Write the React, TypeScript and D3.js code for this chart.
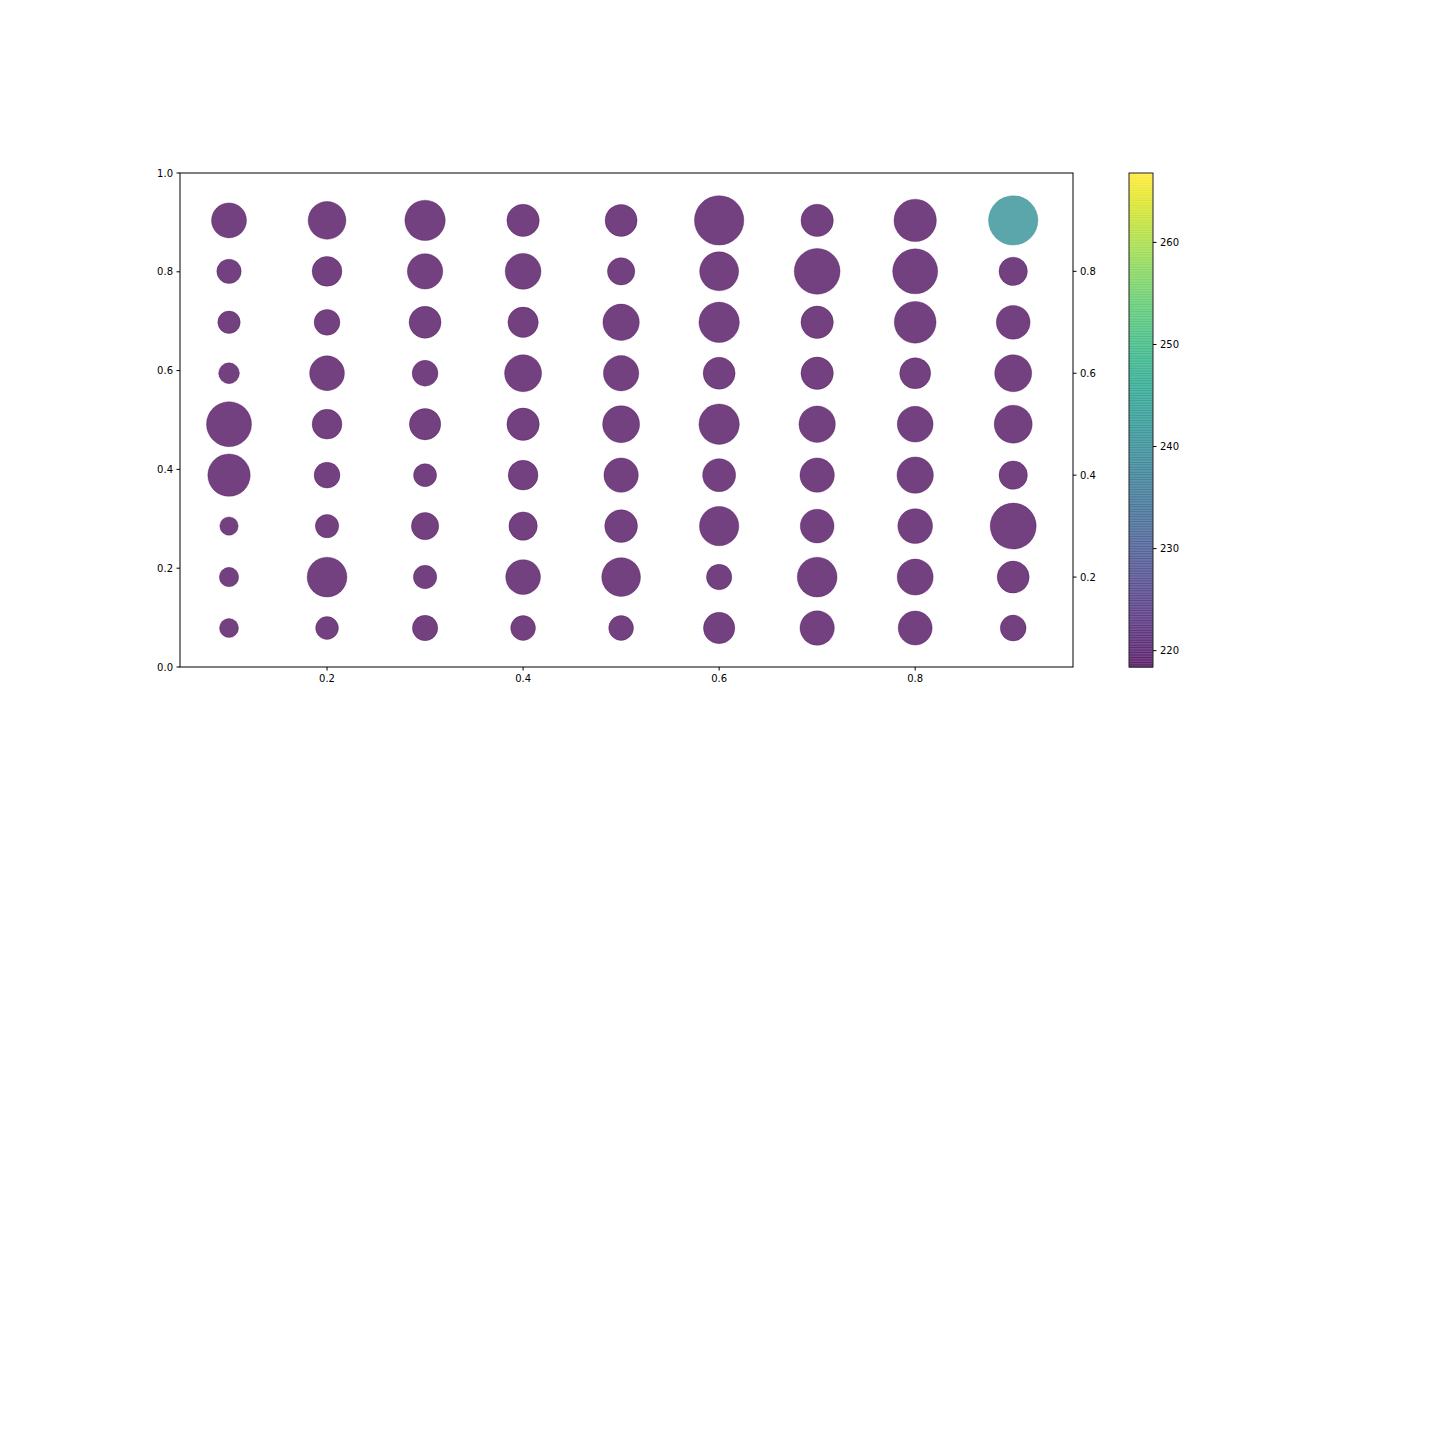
import React from "react";
import * as d3 from "d3";

// bubble grid: columns along x, rows along y (top row first)
const xValues = [0.1, 0.2, 0.3, 0.4, 0.5, 0.6, 0.7, 0.8, 0.9];
const yValues = [0.9, 0.8, 0.7, 0.6, 0.5, 0.4, 0.3, 0.2, 0.1];

// marker areas (points^2), one row per y value
const sizes = [
  [1225, 1429, 1632, 1050, 1024, 2440, 1050, 1798, 2440],
  [595, 888, 1253, 1282, 751, 1521, 2098, 2025, 807],
  [502, 666, 1024, 924, 1325, 1632, 1050, 1747, 1142],
  [433, 1211, 666, 1369, 1253, 1024, 1050, 961, 1369],
  [2025, 888, 986, 1050, 1369, 1632, 1325, 1282, 1444],
  [1798, 666, 529, 888, 1183, 1089, 1183, 1325, 807],
  [339, 548, 751, 807, 1076, 1552, 1142, 1211, 2116],
  [376, 1584, 548, 1211, 1505, 645, 1584, 1296, 1024],
  [361, 520, 645, 615, 615, 986, 1183, 1156, 666],
];

// colour values per bubble
const colorValues = [
  [218.4, 218.4, 218.4, 218.4, 218.4, 218.4, 218.4, 218.4, 241],
  [218.4, 218.4, 218.4, 218.4, 218.4, 218.4, 218.4, 218.4, 218.4],
  [218.4, 218.4, 218.4, 218.4, 218.4, 218.4, 218.4, 218.4, 218.4],
  [218.4, 218.4, 218.4, 218.4, 218.4, 218.4, 218.4, 218.4, 218.4],
  [218.4, 218.4, 218.4, 218.4, 218.4, 218.4, 218.4, 218.4, 218.4],
  [218.4, 218.4, 218.4, 218.4, 218.4, 218.4, 218.4, 218.4, 218.4],
  [218.4, 218.4, 218.4, 218.4, 218.4, 218.4, 218.4, 218.4, 218.4],
  [218.4, 218.4, 218.4, 218.4, 218.4, 218.4, 218.4, 218.4, 218.4],
  [218.4, 218.4, 218.4, 218.4, 218.4, 218.4, 218.4, 218.4, 218.4],
];

const xTicks = [0.2, 0.4, 0.6, 0.8];
const leftTicks = [0.0, 0.2, 0.4, 0.6, 0.8, 1.0];
const rightTicks = [0.2, 0.4, 0.6, 0.8];
const cbarTicks = [220, 230, 240, 250, 260];

const xDomain = [0.05, 0.961];
const rightDomain = [0.0235, 0.993];
const cDomain = [218.4, 266.8];

const plot = { left: 180, right: 1073, top: 173, bottom: 667 };
const cbar = { left: 1129, right: 1153 };
const FONT = "DejaVu Sans, sans-serif";
const ALPHA = 0.75;

export default function App() {
  const x = d3.scaleLinear().domain(xDomain).range([plot.left, plot.right]);
  const yLeft = d3.scaleLinear().domain([0, 1]).range([plot.bottom, plot.top]);
  const yRight = d3.scaleLinear().domain(rightDomain).range([plot.bottom, plot.top]);
  const yCbar = d3.scaleLinear().domain(cDomain).range([plot.bottom, plot.top]);
  const color = d3.scaleSequential(d3.interpolateViridis).domain(cDomain);
  // matplotlib s is area in pt^2; radius = sqrt(s)/2
  const r = (s: number) => Math.sqrt(s) / 2;

  const points = yValues.flatMap((yv, i) =>
    xValues.map((xv, j) => ({ x: xv, y: yv, s: sizes[i][j], c: colorValues[i][j] }))
  );

  const nBands = 200;
  const step = (cDomain[1] - cDomain[0]) / nBands;
  const bands = d3.range(nBands).map((k) => cDomain[0] + step * k);
  const bandH = (plot.bottom - plot.top) / nBands;

  const fmt = d3.format(".1f");

  return (
    <svg width={1440} height={1440} style={{ position: "absolute", left: 0, top: 0, background: "#fff" }}>
      <rect x={0} y={0} width={1440} height={1440} fill="#fff" />

      {/* bubbles */}
      <g>
        {points.map((p, i) => (
          <circle
            key={i}
            cx={x(p.x)}
            cy={yRight(p.y)}
            r={r(p.s)}
            fill={color(p.c)}
            fillOpacity={ALPHA}
            stroke={color(p.c)}
            strokeOpacity={0.45}
            strokeWidth={0.7}
          />
        ))}
      </g>

      {/* axes frame */}
      <rect
        x={plot.left}
        y={plot.top}
        width={plot.right - plot.left}
        height={plot.bottom - plot.top}
        fill="none"
        stroke="#000"
        strokeWidth={1}
      />

      {/* bottom axis */}
      <g fontFamily={FONT} fontSize={10} fill="#000">
        {xTicks.map((t) => (
          <g key={t}>
            <line x1={x(t)} x2={x(t)} y1={plot.bottom} y2={plot.bottom + 3.5} stroke="#000" />
            <text x={x(t)} y={plot.bottom + 7} dy="0.76em" textAnchor="middle">
              {fmt(t)}
            </text>
          </g>
        ))}
      </g>

      {/* left axis */}
      <g fontFamily={FONT} fontSize={10} fill="#000">
        {leftTicks.map((t) => (
          <g key={t}>
            <line x1={plot.left - 3.5} x2={plot.left} y1={yLeft(t)} y2={yLeft(t)} stroke="#000" />
            <text x={plot.left - 7} y={yLeft(t)} dy="0.35em" textAnchor="end">
              {fmt(t)}
            </text>
          </g>
        ))}
      </g>

      {/* right (twin) axis */}
      <g fontFamily={FONT} fontSize={10} fill="#000">
        {rightTicks.map((t) => (
          <g key={t}>
            <line x1={plot.right} x2={plot.right + 3.5} y1={yRight(t)} y2={yRight(t)} stroke="#000" />
            <text x={plot.right + 7} y={yRight(t)} dy="0.35em" textAnchor="start">
              {fmt(t)}
            </text>
          </g>
        ))}
      </g>

      {/* colorbar */}
      <g>
        {bands.map((v, k) => (
          <rect
            key={k}
            x={cbar.left}
            y={plot.bottom - (k + 1) * bandH}
            width={cbar.right - cbar.left}
            height={bandH + 0.7}
            fill={color(v + step / 2)}
            fillOpacity={ALPHA}
          />
        ))}
        <rect
          x={cbar.left}
          y={plot.top}
          width={cbar.right - cbar.left}
          height={plot.bottom - plot.top}
          fill="none"
          stroke="#222"
          strokeWidth={1}
        />
        <g fontFamily={FONT} fontSize={10} fill="#000">
          {cbarTicks.map((t) => (
            <g key={t}>
              <line x1={cbar.right} x2={cbar.right + 3.5} y1={yCbar(t)} y2={yCbar(t)} stroke="#000" />
              <text x={cbar.right + 7} y={yCbar(t)} dy="0.35em" textAnchor="start">
                {t}
              </text>
            </g>
          ))}
        </g>
      </g>
    </svg>
  );
}
